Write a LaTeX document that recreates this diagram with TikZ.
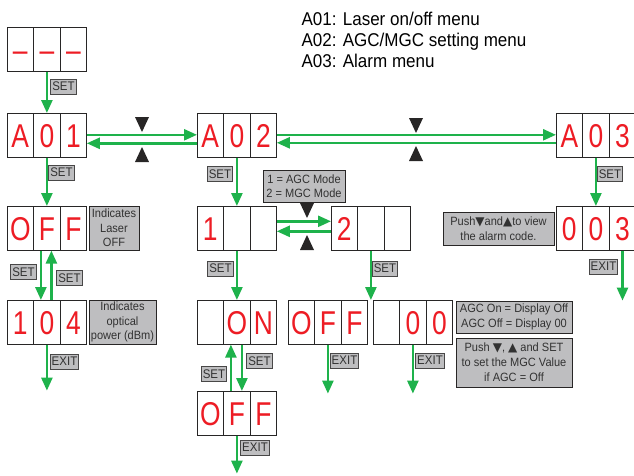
\documentclass[tikz,border=0pt]{standalone}
\usepackage{fontspec}
\setmainfont{Liberation Sans}[FakeStretch=0.92]
\newfontfamily\segfont{Liberation Sans}[FakeStretch=0.8]
\newfontfamily\symfont{DejaVu Sans}
\usepackage{tikz}
\usetikzlibrary{arrows.meta,calc}
\definecolor{segred}{RGB}{237,28,36}
\definecolor{flowgreen}{RGB}{30,178,75}
\definecolor{infogray}{RGB}{190,190,192}
\definecolor{framedark}{RGB}{40,38,38}
\definecolor{textdark}{RGB}{50,50,50}

\tikzset{
  segcell/.style={draw=framedark,line width=1pt,minimum width=26.6pt,
    minimum height=44.6pt,inner sep=0pt,outer sep=0pt,anchor=west,
    text=segred,font=\segfont\fontsize{33}{33}\selectfont,
    text height=23.6pt,text depth=0pt},
  flow/.style={draw=flowgreen,line width=2.5pt,
    -{Triangle[length=13pt,width=11pt]}},
  keylbl/.style={draw=framedark!85,fill=infogray,line width=0.8pt,
    text=textdark,inner xsep=1.6pt,inner ysep=1pt,minimum height=15pt,
    font=\fontsize{12.5}{13}\selectfont},
  infobox/.style={draw=framedark,fill=infogray,line width=0.9pt,
    text=textdark,align=center,inner sep=1pt,
    font=\fontsize{12}{14.5}\selectfont},
  legend/.style={anchor=base west,font=\fontsize{18.5}{21}\selectfont}
}

% one three-digit display: name, left x, top y, three characters
\newcommand\display[6]{%
  \node[segcell] (#1-1) at (#2,#3+22.3) {#4};
  \node[segcell] (#1-2) at (#1-1.east) {#5};
  \node[segcell] (#1-3) at (#1-2.east) {#6};
}
% the down and up keys: centre x, top y
\newcommand\keydown[2]{\fill[framedark] (#1-7,#2) -- (#1+7,#2) -- (#1,#2+15) -- cycle;}
\newcommand\keyup[2]{\fill[framedark] (#1-7,#2+15) -- (#1+7,#2+15) -- (#1,#2) -- cycle;}
\newcommand\dn{{\symfont ▼}}
\newcommand\up{{\symfont ▲}}

\begin{document}
\begin{tikzpicture}[x=1pt,y=-1pt]
  \useasboundingbox (0,0) rectangle (634,475);

  % legend
  \node[legend] (leg1) at (298,25) {A01: Laser on/off menu};
  \node[legend] (leg2) at (298,46) {A02: AGC/MGC setting menu};
  \node[legend] (leg3) at (298,67) {A03: Alarm menu};

  % displays
  \display{dash}{7}{27}{–}{–}{–}
  \display{a01}{7}{113}{A}{0}{1}
  \display{a02}{197}{113}{A}{0}{2}
  \display{a03}{556}{113}{A}{0}{3}
  \display{off1}{7}{206}{O}{F}{F}
  \display{d104}{7}{300}{1}{0}{4}
  \display{mode1}{197}{206}{1}{}{}
  \display{mode2}{331}{206}{2}{}{}
  \display{on}{197}{300}{}{O}{N}
  \display{offb}{197}{391}{O}{F}{F}
  \display{offm}{288}{300}{O}{F}{F}
  \display{mgc}{373}{300}{}{0}{0}
  \display{d003}{556}{206}{0}{0}{3}

  % info boxes
  \node[infobox,minimum width=50pt,minimum height=44pt] (laserinfo) at (114,228) {Indicates\\Laser\\OFF};
  \node[infobox,minimum width=67pt,minimum height=44pt] (powerinfo) at (122.5,322) {Indicates\\optical\\power (dBm)};
  \node[infobox,minimum width=82pt,minimum height=32pt,font=\fontsize{12}{14.5}\selectfont] (modeinfo) at (304,186) {1 = AGC Mode\\2 = MGC Mode};
  \node[infobox,minimum width=111pt,minimum height=33pt,font=\fontsize{12}{15.5}\selectfont] (alarminfo) at (498.5,228.5) {Push\dn and\up to view\\the alarm code.};
  \node[infobox,minimum width=116pt,minimum height=32pt] (agcinfo) at (514,317) {AGC On = Display Off\\AGC Off = Display 00};
  \node[infobox,minimum width=116pt,minimum height=49pt,font=\fontsize{12}{15}\selectfont] (mgcinfo) at (514,362.5) {Push \dn, \up\ and SET\\to set the MGC Value\\if AGC = Off};

  % keys
  \keydown{142}{117} \keyup{142}{147}
  \keydown{416}{118} \keyup{416}{146}
  \keydown{307}{203} \keyup{307}{235}

  % free ends of the exit arrows
  \coordinate (exit104) at ([yshift=-46pt]d104-2.south);
  \coordinate (exitoffb) at ([yshift=-38pt]offb-2.south);
  \coordinate (exitoffm) at ([yshift=-49pt]offm-2.south);
  \coordinate (exitmgc) at ([yshift=-49pt]mgc-2.south);
  \coordinate (exit003) at ([yshift=-50pt]d003-3.south);

  % connectors
  \draw[flow] (dash-2.south) -- (a01-2.north);
  \draw[flow] ([yshift=0.5pt]a01-3.east) -- ([yshift=0.5pt]a02-1.west);
  \draw[flow] ([yshift=-8pt]a02-1.west) -- ([yshift=-8pt]a01-3.east);
  \draw[flow] ([yshift=0.5pt]a02-3.east) -- ([yshift=0.5pt]a03-1.west);
  \draw[flow] ([yshift=-7.5pt]a03-1.west) -- ([yshift=-7.5pt]a02-3.east);
  \draw[flow] (a01-2.south) -- (off1-2.north);
  \draw[flow] ([xshift=-6pt]off1-2.south) -- ([xshift=-6pt]d104-2.north);
  \draw[flow] ([xshift=4.5pt]d104-2.north) -- ([xshift=4.5pt]off1-2.south);
  \draw[flow] (d104-2.south) -- (exit104);
  \draw[flow] (a02-2.south) -- (mode1-2.north);
  \draw[flow] ([yshift=7pt]mode1-3.east) -- ([yshift=7pt]mode2-1.west);
  \draw[flow] ([yshift=-3pt]mode2-1.west) -- ([yshift=-3pt]mode1-3.east);
  \draw[flow] (mode1-2.south) -- (on-2.north);
  \draw[flow] (mode2-2.south) -- (mode2-2.south |- mgc-1.north);
  \draw[flow] ([xshift=-6pt]offb-2.north) -- ([xshift=-6pt]on-2.south);
  \draw[flow] ([xshift=5pt]on-2.south) -- ([xshift=5pt]offb-2.north);
  \draw[flow] (offb-2.south) -- (exitoffb);
  \draw[flow] (offm-2.south) -- (exitoffm);
  \draw[flow] (mgc-2.south) -- (exitmgc);
  \draw[flow] (a03-2.south) -- (d003-2.north);
  \draw[flow] (d003-3.south) -- (exit003);

  % key labels
  \node[keylbl] (set1) at (63.5,86.5) {SET};
  \node[keylbl] (set2) at (61.5,172.5) {SET};
  \node[keylbl] (set3) at (23.5,272) {SET};
  \node[keylbl] (set4) at (69.5,278) {SET};
  \node[keylbl] (set5) at (220,174) {SET};
  \node[keylbl] (set6) at (220.5,268.5) {SET};
  \node[keylbl] (set7) at (385,268.5) {SET};
  \node[keylbl] (set8) at (214,374) {SET};
  \node[keylbl] (set9) at (259.5,361) {SET};
  \node[keylbl] (set10) at (610,174) {SET};
  \node[keylbl] (exitlbl1) at (64.5,361.5) {EXIT};
  \node[keylbl] (exitlbl2) at (255,447.5) {EXIT};
  \node[keylbl] (exitlbl3) at (344.5,360.5) {EXIT};
  \node[keylbl] (exitlbl4) at (430,360.5) {EXIT};
  \node[keylbl] (exitlbl5) at (603.5,266.5) {EXIT};
\end{tikzpicture}
\end{document}
